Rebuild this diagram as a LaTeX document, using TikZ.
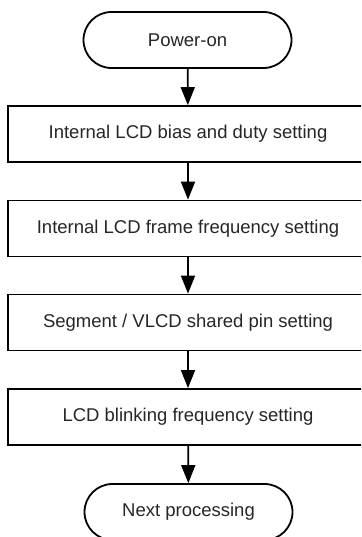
\documentclass[tikz,border=0pt]{standalone}
\usepackage{fontspec}
\setmainfont{Liberation Sans}
\usetikzlibrary{arrows.meta}
\begin{document}
\begin{tikzpicture}[x=1pt,y=-1pt,
  every node/.style={font=\fontsize{18.5}{22}\selectfont, inner sep=0pt, text=black!85},
  procbox/.style={draw=black, line width=1.8pt, minimum width=360pt, minimum height=56pt},
  termbox/.style={draw=black, line width=1.8pt, rounded corners=28pt, minimum width=208pt, minimum height=56pt},
  flow/.style={line width=1.8pt, -{Triangle[length=18pt,width=14pt]}}]
\clip (0,0) rectangle (361,537);
\node[termbox] (t1) at (187.5,40) {Power-on};
\node[procbox] (b1) at (188,134) {Internal LCD bias and duty setting};
\node[procbox] (b2) at (188,228.5) {Internal LCD frame frequency setting};
\node[procbox] (b3) at (188,322.5) {Segment / VLCD shared pin setting};
\node[procbox] (b4) at (188,417) {LCD blinking frequency setting};
\node[termbox] (t2) at (188.5,512) {Next processing};
\draw[flow] (t1) -- (b1);
\draw[flow] (b1) -- (b2);
\draw[flow] (b2) -- (b3);
\draw[flow] (b3) -- (b4);
\draw[flow] (b4) -- (t2);
\end{tikzpicture}
\end{document}
